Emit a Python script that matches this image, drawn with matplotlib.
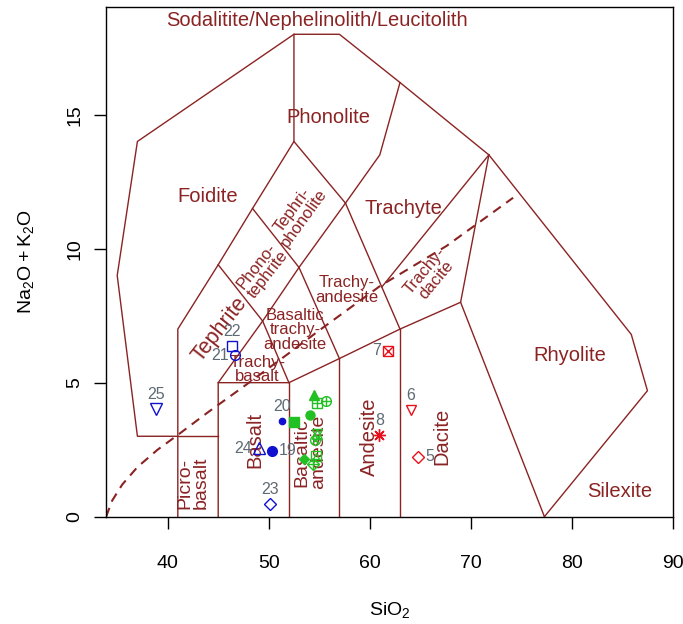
import numpy as np
import matplotlib.pyplot as plt

plt.rcParams['font.family'] = ['Liberation Sans', 'DejaVu Sans']
plt.rcParams['mathtext.fontset'] = 'custom'
plt.rcParams['mathtext.rm'] = 'Liberation Sans'

FIELD = '#8B2323'
NUMCOL = '#5E6A74'

# TAS field boundaries (SiO2, Na2O+K2O), Middlemost-style volcanic classification
outer_x = [41, 37, 35, 37, 52.5, 57, 63, 71.8, 85.9, 87.5, 77.3]
outer_y = [3, 3, 9, 14, 18, 18, 16.2, 13.5, 6.8, 4.7, 0]
tephrite_x = [41, 41, 45, 48.4, 52.5, 52.5]
tephrite_y = [0, 7, 9.4, 11.5, 14, 18]
ridge_x = [45, 45, 49.4, 53, 57.6, 61, 63]
ridge_y = [0, 5, 7.3, 9.3, 11.7, 13.5, 16.2]
base_x = [45, 52, 57, 63, 69, 71.8]
base_y = [5, 5, 5.9, 7, 8, 13.5]
segments = [
    ([41, 45], [3, 3]),
    ([52, 52], [0, 5]),
    ([57, 57], [0, 5.9]),
    ([63, 63], [0, 7]),
    ([69, 77.3], [8, 0]),
    ([52, 49.4], [5, 7.3]),
    ([49.4, 45], [7.3, 9.4]),
    ([53, 48.4], [9.3, 11.5]),
    ([52.5, 57.6], [14, 11.7]),
    ([57, 53], [5.9, 9.3]),
    ([57.6, 63], [11.7, 7]),
    ([61.2, 71.8], [8.57, 13.5]),
]

# alkaline / subalkaline divide
divide_x = [33.9, 34.5, 35.5, 37, 39, 41, 44, 47.5, 52, 55, 61, 67.6, 74.2]
divide_y = [0, 0.6, 1.2, 1.85, 2.5, 3.05, 3.9, 4.85, 6.1, 6.95, 8.6, 10.1, 11.9]

# samples
sample = [5, 6, 7, 8, 9, 10, 11, 12, 13, 14, 15, 16, 17, 18,
          19, 20, 21, 22, 23, 24, 25]
sio2 = [64.8, 64.1, 61.8, 60.95, 54.35, 55.7, 54.75, 54.8, 54.6, 54.65,
        52.5, 54.1, 54.5, 53.5, 50.35, 51.35, 46.7, 46.35, 50.15, 49.05, 38.85]
alkali = [2.24, 3.98, 6.2, 3.05, 1.95, 4.33, 3.1, 4.23, 2.85, 2.26,
          3.52, 3.8, 4.55, 2.14, 2.46, 3.57, 6.03, 6.37, 0.47, 2.55, 4.0]
group = ['red'] * 4 + ['green'] * 10 + ['blue'] * 7

group_col = {'red': '#E8101A', 'green': '#22C022', 'blue': '#1010D0'}
label_side = {5: 'right', 6: 'top', 7: 'left', 8: 'top', 19: 'right',
              20: 'top', 21: 'left', 22: 'top', 23: 'top', 24: 'left', 25: 'top'}


def pch(ax, x, y, code, col):
    # R plotting symbols, built from matplotlib markers
    open_kw = dict(mfc='none', mec=col, mew=1.0, ls='none', zorder=5)
    fill_kw = dict(mfc=col, mec=col, mew=1.0, ls='none', zorder=5)
    if code == 5:
        ax.plot(x, y, 'D', ms=6, **open_kw)
    elif code == 6:
        ax.plot(x, y, 'v', ms=7.5, **open_kw)
    elif code == 7:
        ax.plot(x, y, 's', ms=6.5, **open_kw)
        ax.plot(x, y, 'x', ms=6.5, **open_kw)
    elif code == 8:
        ax.plot(x, y, marker=(8, 2, 0), ms=9, **open_kw)
    elif code == 9:
        ax.plot(x, y, 'D', ms=6, **open_kw)
        ax.plot(x, y, '+', ms=8, **open_kw)
    elif code == 10:
        ax.plot(x, y, 'o', ms=7, **open_kw)
        ax.plot(x, y, '+', ms=7, **open_kw)
    elif code == 11:
        ax.plot(x, y, '^', ms=7.5, **open_kw)
        ax.plot(x, y, 'v', ms=7.5, **open_kw)
    elif code == 12:
        ax.plot(x, y, 's', ms=6.5, **open_kw)
        ax.plot(x, y, '+', ms=6.5, **open_kw)
    elif code == 13:
        ax.plot(x, y, 'o', ms=7, **open_kw)
        ax.plot(x, y, 'x', ms=5, **open_kw)
    elif code == 14:
        ax.plot(x, y, 's', ms=6.5, **open_kw)
        ax.plot(x, y, '^', ms=5, **open_kw)
    elif code == 15:
        ax.plot(x, y, 's', ms=6.5, **fill_kw)
    elif code == 16:
        ax.plot(x, y, 'o', ms=6.5, **fill_kw)
    elif code == 17:
        ax.plot(x, y, '^', ms=7, **fill_kw)
    elif code == 18:
        ax.plot(x, y, 'D', ms=5, **fill_kw)
    elif code == 19:
        ax.plot(x, y, 'o', ms=7, **fill_kw)
    elif code == 20:
        ax.plot(x, y, 'o', ms=4.5, **fill_kw)
    elif code == 21:
        ax.plot(x, y, 'o', ms=7, **open_kw)
    elif code == 22:
        ax.plot(x, y, 's', ms=7, **open_kw)
    elif code == 23:
        ax.plot(x, y, 'D', ms=6.5, **open_kw)
    elif code == 24:
        ax.plot(x, y, '^', ms=8, **open_kw)
    elif code == 25:
        ax.plot(x, y, 'v', ms=8, **open_kw)


fig = plt.figure(figsize=(6.83, 6.24), dpi=100)
ax = fig.add_axes([0.1552, 0.172, 0.8297, 0.8173])
ax.set_xlim(33.89, 90)
ax.set_ylim(0, 19.03)

line_kw = dict(color=FIELD, lw=1.0, zorder=2)
ax.plot(outer_x, outer_y, **line_kw)
ax.plot(tephrite_x, tephrite_y, **line_kw)
ax.plot(ridge_x, ridge_y, **line_kw)
ax.plot(base_x, base_y, **line_kw)
for sx, sy in segments:
    ax.plot(sx, sy, **line_kw)
ax.plot(divide_x, divide_y, color=FIELD, lw=1.5, ls=(0, (4.5, 3.2)), zorder=2)

big = 14.5
small = 12
fields = [
    ('Sodalitite/Nephelinolith/Leucitolith', 54.8, 18.53, 0, big),
    ('Phonolite', 55.9, 14.9, 0, big),
    ('Foidite', 44.0, 11.93, 0, big),
    ('Trachyte', 63.3, 11.5, 0, big),
    ('Rhyolite', 79.8, 6.0, 0, big),
    ('Silexite', 84.8, 0.93, 0, big),
    ('Tephri-\nphonolite', 52.9, 11.3, 54, small),
    ('Phono-\ntephrite', 49.4, 9.2, 52, small),
    ('Tephrite', 45.2, 6.97, 52, 15.5),
    ('Trachy-\ndacite', 66.0, 9.0, 50, small),
    ('Trachy-\nandesite', 57.7, 8.46, 0, small),
    ('Basaltic\ntrachy-\nandesite', 52.6, 6.97, 0, small),
    ('Trachy-\nbasalt', 48.9, 5.5, 0, small),
    ('Picro-\nbasalt', 42.55, 1.25, 90, 14),
    ('Basalt', 48.65, 2.86, 90, big),
    ('Basaltic\nandesite', 54.1, 2.4, 90, 14),
    ('Andesite', 60.0, 3.0, 90, big),
    ('Dacite', 67.1, 3.0, 90, big),
]
for txt, fx, fy, rot, fs in fields:
    ax.text(fx, fy, txt, color=FIELD, fontsize=fs, rotation=rot,
            ha='center', va='center', linespacing=0.95, zorder=3)

for s, x, y, g in zip(sample, sio2, alkali, group):
    pch(ax, x, y, s, group_col[g])
    side = label_side.get(s)
    if side is None:
        continue
    if side == 'top':
        off, ha, va = (0, 10.5), 'center', 'center'
    elif side == 'left':
        off, ha, va = (-5, 0), 'right', 'center'
    else:
        off, ha, va = (5, 0), 'left', 'center'
    ax.annotate(str(s), (x, y), xytext=off, textcoords='offset points',
                ha=ha, va=va, fontsize=11.5, color=NUMCOL, zorder=6)

ax.set_xticks([40, 50, 60, 70, 80, 90])
ax.set_yticks([0, 5, 10, 15])
ax.tick_params(axis='both', labelsize=14, length=8.5, width=1.0, direction='out')
ax.tick_params(axis='x', pad=19)
ax.tick_params(axis='y', pad=8)
for lbl in ax.get_yticklabels():
    lbl.set_rotation(90)
    lbl.set_va('center')
for sp in ax.spines.values():
    sp.set_linewidth(1.0)

ax.set_xlabel(r'$\mathregular{SiO_2}$', fontsize=14, labelpad=20)
ax.set_ylabel(r'$\mathregular{Na_2O+K_2O}$', fontsize=14, labelpad=22)

fig.savefig('out.png', dpi=100)
